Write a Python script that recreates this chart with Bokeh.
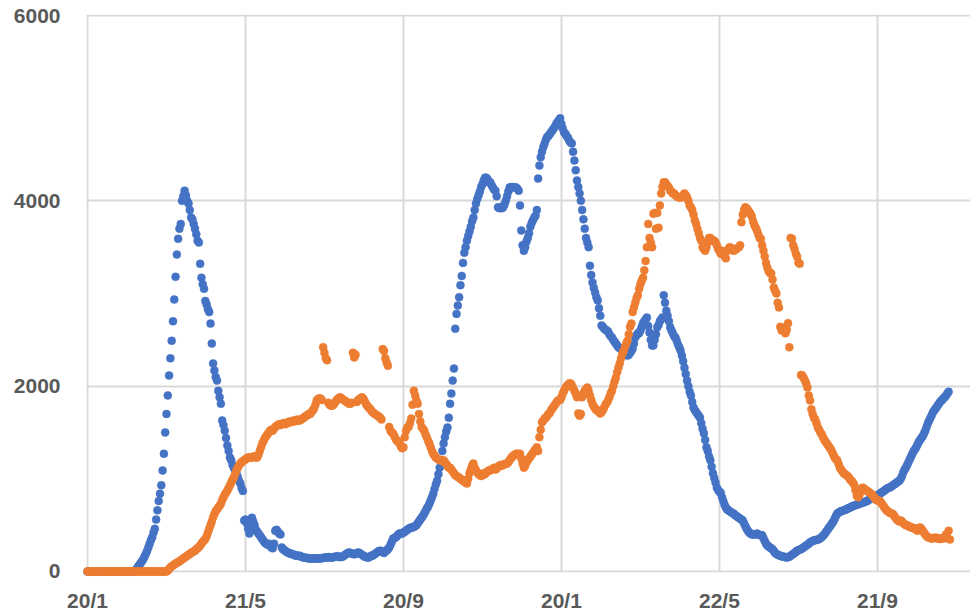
from bokeh.plotting import figure
from bokeh.models import Range1d, FixedTicker
from bokeh.embed import file_html
from bokeh.resources import INLINE

# x axis: day index, labelled every 122 days
tick_days = [0, 122, 244, 366, 488, 610]
tick_labels = ["20/1", "21/5", "20/9", "20/1", "22/5", "21/9"]
y_ticks = [0, 2000, 4000, 6000]

# blue series, one value per day starting at day 0
blue_values = [
    0, 0, 0, 0, 0, 0, 0, 0, 0, 0,
    0, 0, 0, 0, 0, 0, 0, 0, 0, 0,
    0, 0, 0, 0, 0, 0, 0, 0, 0, 0,
    0, 0, 0, 0, 0, 0, 0, 10, 30, 50,
    70, 90, 110, 130, 160, 190, 220, 260, 300, 340,
    370, 420, 460, 560, 660, 760, 840, 930, 1090, 1270,
    1500, 1700, 1900, 2115, 2300, 2490, 2700, 2935, 3180, 3420,
    3590, 3700, 3750, 4000, 4050, 4110, 4060, 4000, 3970, 3900,
    3820, 3800, 3750, 3700, 3640, 3570, 3550, 3320, 3170, 3100,
    3050, 2920, 2880, 2830, 2800, 2675, 2460, 2245, 2170, 2100,
    2060, 1950, 1880, 1810, 1630, 1580, 1520, 1440, 1360, 1300,
    1230, 1200, 1150, 1120, 1090, 1060, 1020, 980, 950, 900,
    870, 550, 560, 520, 460, 410, 550, 580, 540, 500,
    450, 430, 410, 390, 370, 350, 330, 310, 300, 290,
    300, 280, 260, 250, 300, 440, 450, 430, 410, 400,
    260, 240, 230, 220, 210, 200, 200, 190, 190, 180,
    180, 170, 170, 170, 170, 160, 155, 150, 150, 145,
    145, 140, 140, 140, 140, 140, 140, 140, 140, 140,
    140, 145, 145, 150, 150, 150, 155, 155, 150, 150,
    155, 160, 160, 165, 160, 155, 160, 160, 170, 180,
    190, 200, 205, 200, 195, 190, 185, 190, 200, 205,
    200, 190, 180, 170, 160, 160, 150, 150, 160, 170,
    170, 180, 190, 200, 210, 220, 225, 220, 210, 200,
    225, 225, 240, 260, 290, 320, 355, 360, 370, 380,
    400, 410, 410, 410, 420, 430, 440, 450, 460, 470,
    475, 475, 480, 490, 500, 520, 540, 560, 580, 600,
    625, 650, 680, 700, 730, 765, 800, 840, 890, 940,
    980, 1050, 1120, 1200, 1300, 1380, 1450, 1510, 1555, 1660,
    1810, 1920, 2060, 2190, 2620, 2780, 2870, 2960, 3090, 3190,
    3330, 3440, 3500, 3570, 3620, 3670, 3720, 3780, 3820, 3900,
    3970, 4020, 4060, 4100, 4150, 4180, 4220, 4250, 4250, 4230,
    4200, 4200, 4170, 4145, 4120, 4110, 4050, 3930, 3920, 3930,
    3920, 3930, 3960, 4000, 4050, 4100, 4145, 4145, 4150, 4145,
    4145, 4145, 4130, 4110, 3950, 3680, 3520, 3460, 3500, 3560,
    3600, 3650, 3720, 3760, 3790, 3820, 3840, 3900, 4240, 4380,
    4470, 4530, 4580, 4620, 4660, 4690, 4700, 4720, 4740, 4760,
    4780, 4800, 4830, 4850, 4870, 4890, 4830, 4780, 4740, 4725,
    4700, 4680, 4650, 4630, 4620, 4530, 4435, 4330, 4220, 4150,
    4080, 4000, 3900, 3800, 3700, 3600, 3550, 3500, 3300, 3200,
    3120, 3060, 3010, 2960, 2925, 2840, 2760, 2655, 2640, 2620,
    2610, 2600, 2590, 2560, 2540, 2525, 2500, 2480, 2460, 2440,
    2420, 2410, 2405, 2390, 2370, 2350, 2340, 2330, 2340, 2360,
    2380, 2405, 2460, 2525, 2550, 2570, 2570, 2600, 2640, 2680,
    2700, 2720, 2740, 2650, 2580, 2500, 2440, 2440, 2500, 2560,
    2635, 2660, 2700, 2720, 2740, 2980, 2900, 2815, 2760, 2700,
    2635, 2600, 2570, 2540, 2525, 2490, 2450, 2420, 2385, 2330,
    2270, 2200, 2130, 2060, 2000, 1940, 1900, 1830, 1770, 1740,
    1720, 1700, 1680, 1660, 1600, 1540, 1490, 1420, 1340, 1300,
    1240, 1200, 1130, 1060, 1010, 960, 905, 880, 860, 850,
    800, 760, 720, 690, 670, 660, 650, 640, 630, 625,
    610, 600, 590, 580, 570, 560, 550, 520, 490, 460,
    440, 420, 410, 400, 400, 400, 400, 410, 400, 395,
    390, 390, 360, 330, 300, 280, 270, 260, 250, 240,
    220, 200, 190, 180, 175, 170, 165, 160, 160, 155,
    150, 155, 160, 170, 180, 190, 200, 210, 225, 230,
    235, 240, 250, 260, 270, 280, 290, 300, 315, 320,
    330, 335, 340, 340, 345, 350, 360, 370, 385, 400,
    420, 440, 460, 480, 500, 520, 540, 570, 600, 625,
    635, 645, 650, 655, 660, 665, 670, 680, 685, 690,
    700, 705, 710, 715, 720, 725, 730, 735, 740, 745,
    750, 755, 760, 770, 780, 790, 795, 800, 805, 810,
    820, 830, 840, 850, 860, 870, 880, 890, 900, 905,
    910, 920, 930, 940, 950, 960, 970, 980, 1000, 1030,
    1070, 1100, 1120, 1150, 1180, 1210, 1240, 1270, 1300, 1320,
    1340, 1370, 1400, 1420, 1440, 1460, 1490, 1520, 1560, 1600,
    1630, 1660, 1690, 1720, 1740, 1760, 1780, 1800, 1820, 1840,
    1850, 1870, 1880, 1900, 1920, 1940,
]

# orange series, one value per day starting at day 0
orange_values = [
    0, 0, 0, 0, 0, 0, 0, 0, 0, 0,
    0, 0, 0, 0, 0, 0, 0, 0, 0, 0,
    0, 0, 0, 0, 0, 0, 0, 0, 0, 0,
    0, 0, 0, 0, 0, 0, 0, 0, 0, 0,
    0, 0, 0, 0, 0, 0, 0, 0, 0, 0,
    0, 0, 0, 0, 0, 0, 0, 0, 0, 0,
    0, 0, 10, 25, 45, 55, 65, 75, 85, 95,
    100, 110, 120, 130, 140, 150, 160, 170, 180, 190,
    200, 210, 215, 225, 240, 250, 265, 280, 300, 320,
    335, 350, 380, 420, 460, 500, 540, 585, 620, 650,
    670, 690, 710, 730, 770, 800, 830, 850, 875, 900,
    930, 960, 990, 1015, 1050, 1090, 1120, 1145, 1165, 1180,
    1190, 1200, 1210, 1220, 1230, 1230, 1230, 1230, 1240, 1240,
    1230, 1230, 1260, 1300, 1340, 1380, 1410, 1440, 1460, 1480,
    1500, 1520, 1530, 1520, 1540, 1560, 1570, 1580, 1590, 1580,
    1590, 1600, 1600, 1590, 1600, 1610, 1620, 1610, 1620, 1630,
    1620, 1630, 1640, 1630, 1630, 1640, 1650, 1660, 1670, 1680,
    1690, 1700, 1700, 1720, 1740, 1760, 1800, 1845, 1860, 1870,
    1865, 1850, 2420, 2360, 2300, 2280, 1820, 1800, 1790, 1790,
    1800, 1820, 1840, 1860, 1870, 1880, 1870, 1860, 1850, 1840,
    1830, 1820, 1810, 1810, 1820, 2360, 2310, 2340, 1830, 1850,
    1860, 1870, 1880, 1865, 1840, 1810, 1790, 1770, 1760, 1740,
    1720, 1710, 1700, 1690, 1680, 1670, 1660, 1640, 2400, 2380,
    2300, 2255, 2220, 1560, 1520, 1500, 1490, 1460, 1430, 1410,
    1400, 1380, 1350, 1330, 1340, 1450, 1520, 1555, 1560, 1600,
    1650, 1800, 1950, 1900, 1845, 1810, 1700, 1620, 1560, 1540,
    1520, 1480, 1450, 1410, 1380, 1340, 1300, 1270, 1250, 1230,
    1220, 1210, 1200, 1200, 1190, 1200, 1180, 1160, 1140, 1120,
    1120, 1100, 1080, 1060, 1040, 1030, 1020, 1015, 1000, 990,
    980, 970, 960, 950, 1000, 1060, 1100, 1140, 1165, 1120,
    1090, 1070, 1050, 1040, 1030, 1040, 1060, 1050, 1070, 1080,
    1090, 1090, 1100, 1110, 1120, 1100, 1110, 1130, 1140, 1150,
    1140, 1150, 1160, 1160, 1165, 1180, 1200, 1220, 1240, 1250,
    1260, 1270, 1270, 1270, 1270, 1220, 1165, 1120, 1140, 1180,
    1200, 1220, 1240, 1260, 1280, 1300, 1320, 1340, 1300, 1450,
    1530, 1610, 1630, 1650, 1660, 1680, 1700, 1710, 1740, 1760,
    1780, 1800, 1820, 1840, 1850, 1850, 1880, 1920, 1950, 1980,
    2000, 2010, 2030, 2030, 2010, 1980, 1950, 1920, 1880, 1705,
    1680, 1700, 1880, 1920, 1950, 1970, 1985, 1950, 1900, 1850,
    1810, 1780, 1760, 1740, 1740, 1720, 1705, 1720, 1740, 1770,
    1800, 1820, 1845, 1880, 1920, 1950, 2000, 2050, 2090, 2150,
    2200, 2245, 2300, 2350, 2380, 2420, 2460, 2490, 2560, 2640,
    2675, 2800, 2850, 2900, 2950, 2980, 3050, 3100, 3140, 3170,
    3250, 3350, 3500, 3750, 3600, 3550, 3500, 3860, 3870, 3700,
    3870, 3710, 3950, 4080, 4150, 4200, 4200, 4180, 4160, 4145,
    4110, 4100, 4080, 4080, 4060, 4050, 4040, 4035, 4035, 4040,
    4060, 4080, 4060, 4040, 4000, 3950, 3930, 3900, 3850, 3790,
    3750, 3700, 3650, 3600, 3570, 3500, 3480, 3460, 3500, 3550,
    3600, 3600, 3580, 3570, 3570, 3550, 3520, 3480, 3460, 3430,
    3460, 3450, 3400, 3380, 3460, 3480, 3500, 3490, 3470, 3460,
    3470, 3480, 3490, 3500, 3520, 3770, 3850, 3900, 3930, 3920,
    3900, 3880, 3860, 3830, 3780, 3740, 3710, 3680, 3640, 3600,
    3590, 3520, 3460, 3400, 3330, 3280, 3240, 3220, 3215, 3150,
    3065, 3030, 3000, 2900, 2850, 2640, 2600, 2630, 2620, 2570,
    2610, 2680, 2420, 3600, 3590, 3520, 3480, 3430, 3400, 3335,
    3320, 2120, 2115, 2090, 2060, 2030, 1985, 1900, 1845, 1750,
    1700, 1660, 1640, 1600, 1555, 1530, 1500, 1480, 1450, 1420,
    1400, 1380, 1360, 1340, 1320, 1290, 1260, 1230, 1210, 1200,
    1160, 1120, 1100, 1080, 1060, 1050, 1040, 1030, 1015, 990,
    980, 960, 940, 880, 820, 800, 820, 860, 900, 905,
    890, 880, 870, 860, 850, 840, 830, 810, 790, 775,
    765, 765, 760, 740, 720, 700, 680, 660, 650, 640,
    630, 625, 620, 600, 580, 560, 550, 540, 550, 540,
    520, 510, 500, 500, 490, 480, 480, 470, 470, 460,
    450, 440, 470, 475, 460, 440, 420, 400, 380, 370,
    365, 360, 355, 360, 365, 360, 365, 355, 350, 355,
    360, 355, 370, 400, 360, 440, 345,
]

blue_days = list(range(len(blue_values)))
orange_days = list(range(len(orange_values)))

BLUE = "#4472C4"
ORANGE = "#ED7D31"
GRID = "#d9d9d9"
LABEL = "#595959"

p = figure(
    width=970, height=614,
    output_backend="svg", toolbar_location=None,
    x_range=Range1d(-0.77, 681.9), y_range=Range1d(-10.8, 6010.8),
    min_border_left=86, min_border_right=0, min_border_top=14, min_border_bottom=42,
)
p.outline_line_color = None
p.background_fill_color = "white"
p.border_fill_color = "white"

p.xaxis.ticker = FixedTicker(ticks=tick_days)
p.xaxis.major_label_overrides = {d: lab for d, lab in zip(tick_days, tick_labels)}
p.yaxis.ticker = FixedTicker(ticks=y_ticks)

for ax in (p.xaxis[0], p.yaxis[0]):
    ax.axis_line_color = None
    ax.major_tick_line_color = None
    ax.minor_tick_line_color = None
    ax.major_tick_in = 0
    ax.major_tick_out = 0
    ax.minor_tick_in = 0
    ax.minor_tick_out = 0
    ax.major_label_text_font = "Liberation Sans"
    ax.major_label_text_font_style = "bold"
    ax.major_label_text_font_size = "21px"
    ax.major_label_text_color = LABEL
p.xaxis.major_label_standoff = 16
p.yaxis.major_label_standoff = 26

p.xgrid.grid_line_color = GRID
p.ygrid.grid_line_color = GRID
p.xgrid.grid_line_width = 2
p.ygrid.grid_line_width = 2

p.scatter(blue_days, blue_values, size=8, fill_color=BLUE, line_color=BLUE,
          line_width=0.5, level="overlay")
p.scatter(orange_days, orange_values, size=8, fill_color=ORANGE, line_color=ORANGE,
          line_width=0.5, level="overlay")

open("out.html", "w").write(file_html(p, INLINE))
